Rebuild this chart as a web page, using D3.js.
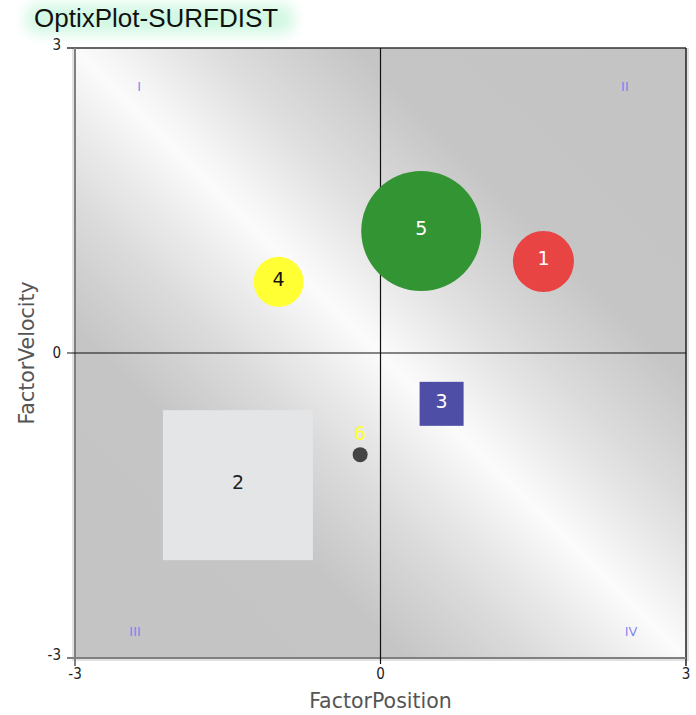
<!DOCTYPE html>
<html>
<head>
<meta charset="utf-8">
<script src="https://cdn.jsdelivr.net/npm/d3@7"></script>
<style>
  html, body { margin: 0; padding: 0; background: #fff; }
  svg { display: block; }
</style>
</head>
<body>
<script>
// ---- data ----
const ids      = ["1", "2", "3", "4", "5", "6"];
const xValues  = [1.6, -1.4, 0.6, -1.0, 0.4, -0.2];
const yValues  = [0.9, -1.3, -0.5, 0.7, 1.2, -1.0];
const sizes    = [61, 150, 44, 50, 120, 15];   // marker magnitude
const shapes   = ["circle", "square", "square", "circle", "circle", "circle"];
const colors   = ["#e84444", "#e4e5e7", "#4e4ea6", "#ffff33", "#339433", "#444444"];
const labelColors = ["#ffffff", "#222222", "#ffffff", "#111111", "#ffffff", "#ffff33"];
const xTicks   = [-3, 0, 3];
const yTicks   = [-3, 0, 3];
const quadrantLabels = ["I", "II", "III", "IV"];
const quadrantPos = [[-2.37, 2.62], [2.4, 2.62], [-2.41, -2.74], [2.46, -2.74]];
const title = "OptixPlot-SURFDIST";
const xTitle = "FactorPosition";
const yTitle = "FactorVelocity";

// ---- layout ----
const W = 696, H = 715;
const plot = { left: 75, right: 686, top: 48, bottom: 658 };

const svg = d3.select("body").append("svg").attr("width", W).attr("height", H);
const defs = svg.append("defs");

const grad = defs.append("linearGradient").attr("id", "bg")
  .attr("x1", "100%").attr("y1", "0%").attr("x2", "0%").attr("y2", "100%");
[[0, "#c4c4c4"], [0.27, "#c5c5c5"], [0.38, "#dcdcdc"], [0.5, "#fbfbfb"], [0.62, "#dcdcdc"], [0.73, "#c5c5c5"], [1, "#c4c4c4"]]
  .forEach(([o, c]) => grad.append("stop").attr("offset", o).attr("stop-color", c));

const blur = defs.append("filter").attr("id", "glow").attr("x", "-30%").attr("y", "-80%").attr("width", "160%").attr("height", "260%");
blur.append("feGaussianBlur").attr("stdDeviation", 7);

const x = d3.scaleLinear().domain([-3, 3]).range([plot.left, plot.right]);
const y = d3.scaleLinear().domain([-3, 3]).range([plot.bottom, plot.top]);
const sizeScale = d3.scaleLinear().domain([0, 150]).range([0, 150]);

// title
svg.append("rect").attr("x", 26).attr("y", 4).attr("width", 268).attr("height", 30)
  .attr("rx", 12).attr("fill", "#d2f8e3").attr("filter", "url(#glow)");
svg.append("text").attr("x", 34).attr("y", 27)
  .attr("font-family", "Liberation Sans, Arial, sans-serif").attr("font-size", 26)
  .attr("fill", "#111").text(title);

// plot shadow + background
svg.append("rect").attr("x", plot.left - 3).attr("y", plot.top).attr("width", plot.right - plot.left + 6)
  .attr("height", plot.bottom - plot.top + 3).attr("fill", "#e2e2e2");
svg.append("rect").attr("x", plot.left).attr("y", plot.top)
  .attr("width", plot.right - plot.left).attr("height", plot.bottom - plot.top)
  .attr("fill", "url(#bg)");

// frame
svg.append("line").attr("x1", plot.left - 8).attr("x2", plot.right).attr("y1", plot.top).attr("y2", plot.top)
  .attr("stroke", "#333").attr("stroke-width", 1.5);
svg.append("line").attr("x1", plot.right).attr("x2", plot.right).attr("y1", plot.top).attr("y2", plot.bottom + 8)
  .attr("stroke", "#222").attr("stroke-width", 1.5);
svg.append("line").attr("x1", plot.left).attr("x2", plot.left).attr("y1", plot.top).attr("y2", plot.bottom + 8)
  .attr("stroke", "#808080").attr("stroke-width", 2);
svg.append("line").attr("x1", plot.left - 8).attr("x2", plot.right).attr("y1", plot.bottom).attr("y2", plot.bottom)
  .attr("stroke", "#808080").attr("stroke-width", 2);

// center axes
svg.append("line").attr("x1", x(0)).attr("x2", x(0)).attr("y1", plot.top).attr("y2", plot.bottom + 6)
  .attr("stroke", "#111").attr("stroke-width", 1.2);
svg.append("line").attr("x1", plot.left - 8).attr("x2", plot.right).attr("y1", y(0)).attr("y2", y(0))
  .attr("stroke", "#111").attr("stroke-width", 1.2);

// tick labels
const tickFont = "DejaVu Sans Condensed, DejaVu Sans, sans-serif";
svg.append("g").selectAll("text").data(yTicks).join("text")
  .attr("x", plot.left - 14).attr("y", d => y(d) + (d === 0 ? 5 : 2))
  .attr("text-anchor", "end").attr("font-family", tickFont).attr("font-size", 15)
  .attr("fill", "#222").text(d => d);
svg.append("g").selectAll("text").data(xTicks).join("text")
  .attr("x", d => x(d)).attr("y", plot.bottom + 21)
  .attr("text-anchor", "middle").attr("font-family", tickFont).attr("font-size", 15)
  .attr("fill", "#222").text(d => d);

// axis titles
svg.append("text").attr("x", x(0)).attr("y", 708).attr("text-anchor", "middle")
  .attr("font-family", "DejaVu Sans, sans-serif").attr("font-size", 20.5)
  .attr("fill", "#555").text(xTitle);
svg.append("text").attr("transform", `translate(34,${y(0)}) rotate(-90)`).attr("text-anchor", "middle")
  .attr("font-family", "DejaVu Sans, sans-serif").attr("font-size", 20.5)
  .attr("fill", "#555").text(yTitle);

// quadrant labels
svg.append("g").selectAll("text").data(quadrantLabels).join("text")
  .attr("x", (d, i) => x(quadrantPos[i][0])).attr("y", (d, i) => y(quadrantPos[i][1]))
  .attr("dy", "0.36em")
  .attr("text-anchor", "middle").attr("font-family", "DejaVu Sans, sans-serif").attr("font-size", 13)
  .attr("fill", "#7878f0").attr("fill-opacity", 0.9).text(d => d);

// markers
const pts = ids.map((id, i) => ({ id, x: xValues[i], y: yValues[i], s: sizes[i], shape: shapes[i], c: colors[i], lc: labelColors[i] }));
const g = svg.append("g");
pts.forEach(p => {
  const cx = x(p.x), cy = y(p.y), d = sizeScale(p.s);
  if (p.shape === "circle") {
    g.append("circle").attr("cx", cx).attr("cy", cy).attr("r", d / 2).attr("fill", p.c);
  } else {
    g.append("rect").attr("x", cx - d / 2).attr("y", cy - d / 2).attr("width", d).attr("height", d).attr("fill", p.c);
  }
  const ly = p.id === "6" ? cy - 22 : cy - 3;
  g.append("text").attr("x", cx).attr("y", ly).attr("dy", "0.36em").attr("text-anchor", "middle")
    .attr("font-family", "DejaVu Sans, sans-serif").attr("font-size", 19)
    .attr("fill", p.lc).text(p.id);
});
</script>
</body>
</html>
